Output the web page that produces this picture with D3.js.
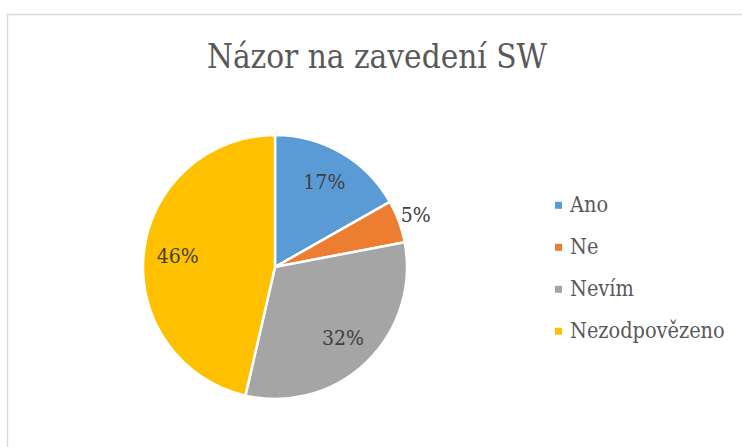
<!DOCTYPE html>
<html>
<head>
<meta charset="utf-8">
<script src="https://cdn.jsdelivr.net/npm/d3@7"></script>
<style>
  html, body { margin: 0; padding: 0; background: #fff; }
  svg { display: block; }
  svg text { font-family: "DejaVu Serif Condensed", "DejaVu Serif"; font-stretch: condensed; }
</style>
</head>
<body>
<svg id="chart" width="742" height="447"></svg>
<script>
const title = "Názor na zavedení SW";
const categories = ["Ano", "Ne", "Nevím", "Nezodpovězeno"];
const values = [16.8, 5.2, 31.6, 46.4];
const colors = ["#5B9BD5", "#ED7D31", "#A5A5A5", "#FFC000"];

const svg = d3.select("#chart");
const W = 742, H = 447;

svg.append("rect").attr("x", 0).attr("y", 0).attr("width", W).attr("height", H).attr("fill", "#fff");
svg.append("rect")
  .attr("x", 7.5).attr("y", 14.5).attr("width", 760).attr("height", 460)
  .attr("fill", "none").attr("stroke", "#d9d9d9").attr("stroke-width", 1.5);

svg.append("text")
  .attr("x", 377).attr("y", 68)
  .attr("text-anchor", "middle")
  .attr("font-size", 33)
  .attr("fill", "#595959")
  .text(title);

const cx = 275, cy = 267, R = 132;
const total = d3.sum(values);
const pie = d3.pie().sort(null).value(d => d)(values);
const arc = d3.arc().innerRadius(0).outerRadius(R);

const g = svg.append("g").attr("transform", `translate(${cx},${cy})`);
g.selectAll("path.slice").data(pie).enter().append("path")
  .attr("class", "slice")
  .attr("d", arc)
  .attr("fill", (d, i) => colors[i])
  .attr("stroke", "#fff").attr("stroke-width", 2.5).attr("stroke-linejoin", "round");

g.selectAll("text.lbl").data(pie).enter().append("text")
  .attr("class", "lbl")
  .attr("font-size", 21)
  .attr("fill", "#404040")
  .attr("text-anchor", "middle")
  .attr("dominant-baseline", "central")
  .attr("transform", d => {
    const a = (d.startAngle + d.endAngle) / 2;
    const frac = d.value / total;
    const r = frac < 0.08 ? 150 : 98;
    return `translate(${r * Math.sin(a)},${-r * Math.cos(a)})`;
  })
  .text(d => Math.round(d.value / total * 100) + "%");

const legY = d3.scalePoint().domain(categories).range([212.3, 338.3]);
const leg = svg.append("g");
categories.forEach((c, i) => {
  const y = legY(c);
  leg.append("rect")
    .attr("x", 555).attr("y", y - 10.5).attr("width", 7).attr("height", 7)
    .attr("fill", colors[i]);
  leg.append("text")
    .attr("x", 570).attr("y", y)
    .attr("font-size", 21.5)
    .attr("fill", "#595959")
    .text(c);
});
</script>
</body>
</html>
